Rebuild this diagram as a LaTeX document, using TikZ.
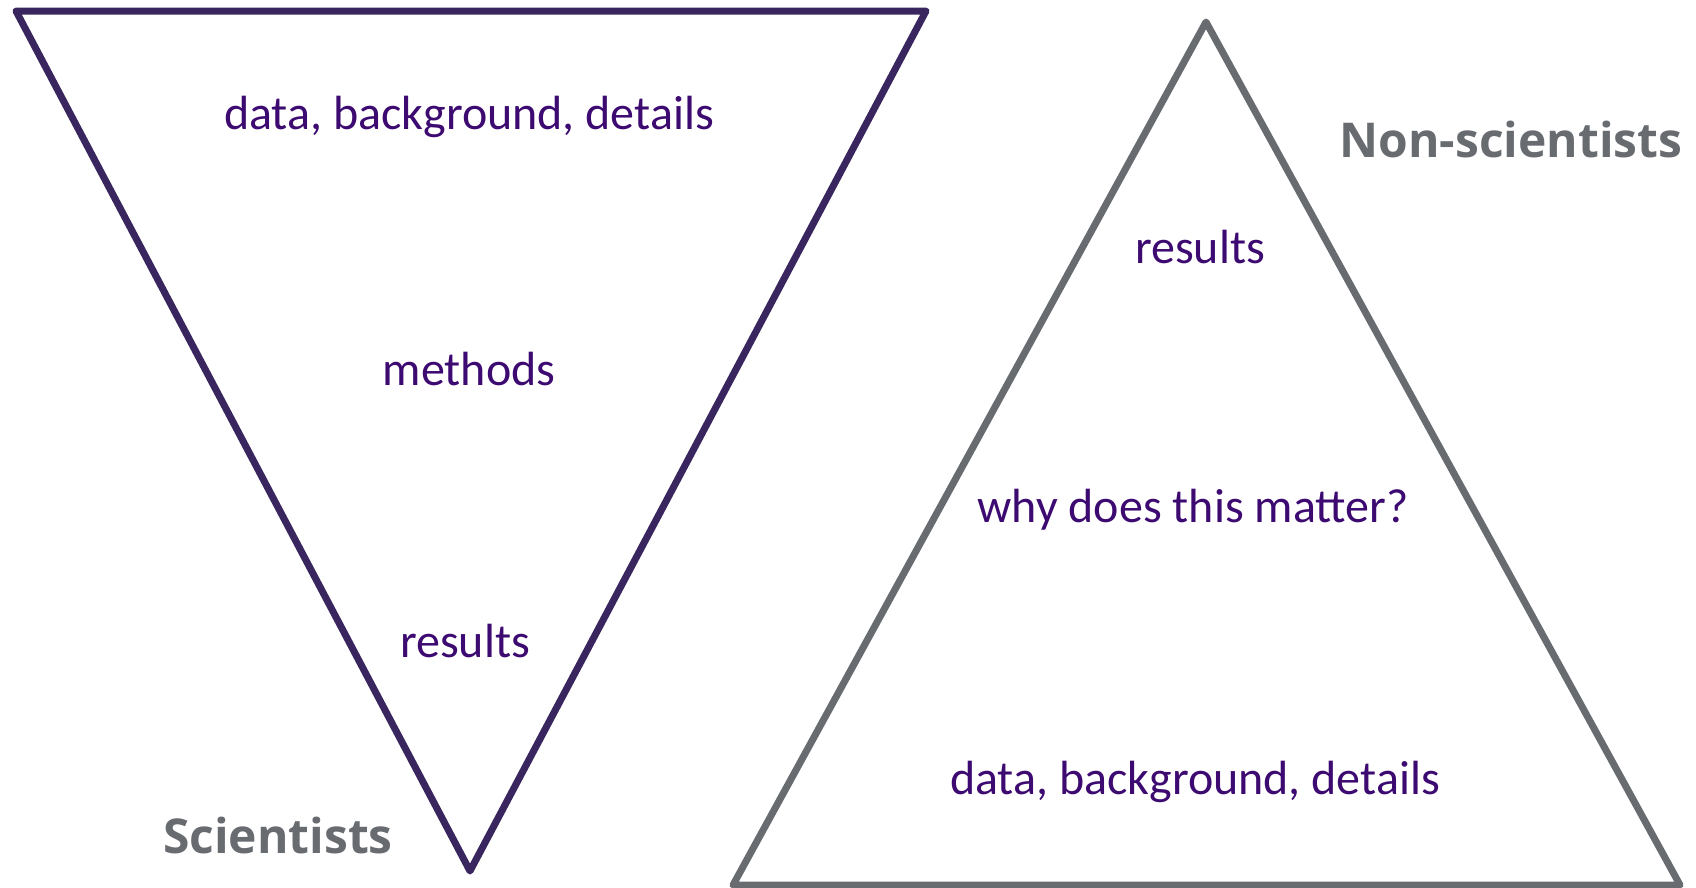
\documentclass[tikz,border=0pt]{standalone}
\usepackage{fontspec}
\setmainfont{Carlito}
\newfontfamily\headfont{Open Sans}
\definecolor{textpurple}{RGB}{60,10,112}
\definecolor{edgepurple}{RGB}{58,38,94}
\definecolor{slate}{RGB}{104,108,112}
\tikzset{
  funnel/.style={draw=edgepurple, line width=7pt, line join=round},
  pyramid/.style={draw=slate, line width=7pt, line join=round},
  tier/.style={anchor=base, inner sep=0pt, text=textpurple, font=\fontsize{48}{52}\selectfont},
  audience/.style={anchor=base, inner sep=0pt, text=slate, font=\headfont\bfseries\fontsize{48}{52}\selectfont}
}
\begin{document}
\begin{tikzpicture}[x=1pt,y=-1pt]
\useasboundingbox (0,0) rectangle (1696,887);
% inverted triangle: scientists
\coordinate (fTL) at (16,11);
\coordinate (fTR) at (926,11);
\coordinate (fB) at (470,871);
\draw[funnel] (fTL) -- (fTR) -- (fB) -- cycle;
% upright triangle: non-scientists
\coordinate (pT) at (1206,22);
\coordinate (pBL) at (733,885);
\coordinate (pBR) at (1680,885);
\draw[pyramid] (pT) -- (pBR) -- (pBL) -- cycle;
% labels of the inverted triangle
\node[tier] (fData) at (469,129) {data, background, details};
\node[tier] (fMethods) at (469,385) {methods};
\node[tier] (fResults) at (465,657) {results};
\node[audience] (sci) at (278,853) {Scientists};
% labels of the upright triangle
\node[tier] (pResults) at (1200,263) {results};
\node[tier] (pWhy) at (1193,522) {why does this matter?};
\node[tier] (pData) at (1195,794) {data, background, details};
\node[audience] (nonsci) at (1511,157) {Non-scientists};
\end{tikzpicture}
\end{document}
